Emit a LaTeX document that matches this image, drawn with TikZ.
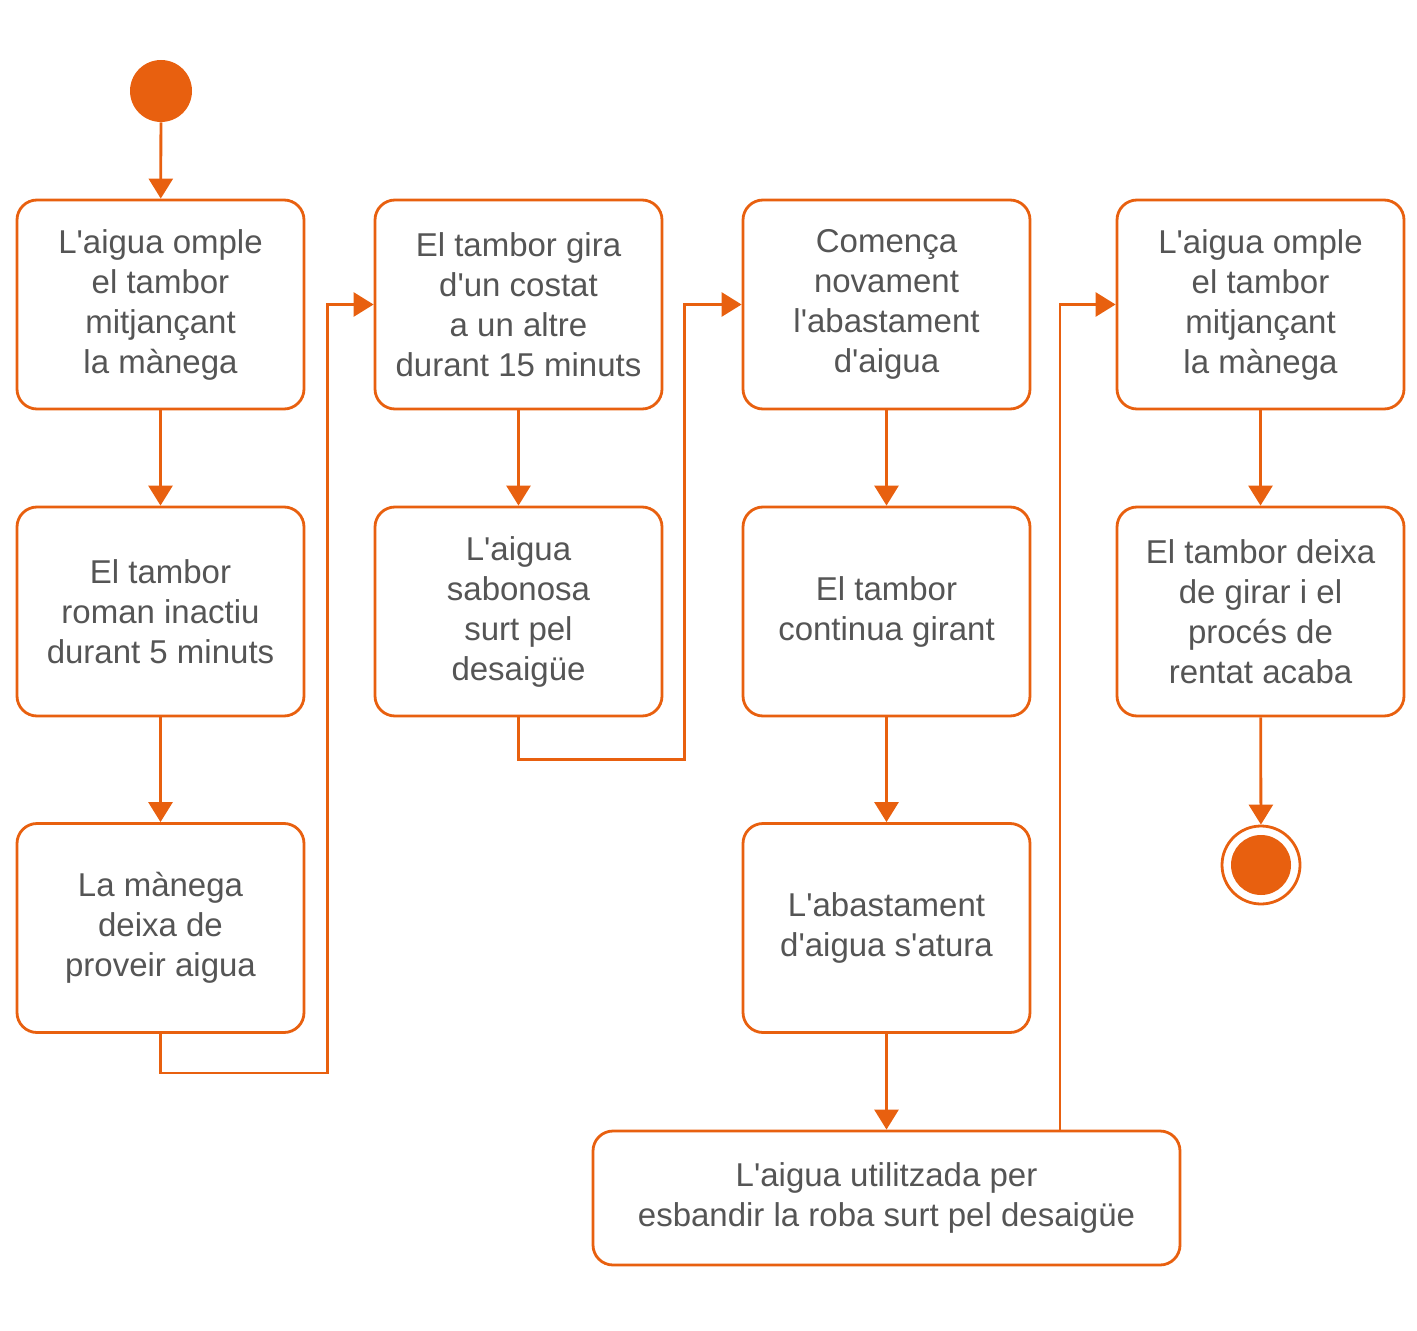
\documentclass[tikz,border=0pt]{standalone}
\usepackage{fontspec}
\setmainfont{Liberation Sans}[Ligatures=TeXOff]
\usetikzlibrary{positioning,arrows.meta}
\definecolor{naranja}{HTML}{E8600F}
\definecolor{gristxt}{HTML}{555555}

\begin{document}
\begin{tikzpicture}[x=0.5pt,y=-0.5pt,
    caja/.style={draw=naranja,line width=1.4pt,rounded corners=10pt,fill=white,
        minimum width=143.5pt,minimum height=104.5pt,align=center,
        text=gristxt,font=\fontsize{16.5}{20}\selectfont},
    flecha/.style={draw=naranja,line width=1.4pt,-{Triangle[length=10pt,width=12pt]}}]
    \useasboundingbox (0,0) rectangle (1417,1331);
    \node[circle,fill=naranja,minimum size=31pt,inner sep=0pt] (ini) at (161,91) {};
    % primera columna
    \node[caja] (a1) at (160.5,304.5) {L'aigua omple\\el tambor\\mitjançant\\la mànega};
    \node[caja] (a2) at (160.5,611.5) {El tambor\\roman inactiu\\durant 5 minuts};
    \node[caja] (a3) at (160.5,928) {La mànega\\deixa de\\proveir aigua};
    % segona columna
    \node[caja] (b1) at (518.5,304.5) {El tambor gira\\d'un costat\\a un altre\\durant 15 minuts};
    \node[caja] (b2) at (518.5,611.5) {L'aigua\\sabonosa\\surt pel\\desaigüe};
    % tercera columna
    \node[caja] (c1) at (886.5,304.5) {Comença\\novament\\l'abastament\\d'aigua};
    \node[caja] (c2) at (886.5,611.5) {El tambor\\continua girant};
    \node[caja] (c3) at (886.5,928) {L'abastament\\d'aigua s'atura};
    \node[caja,minimum width=293.5pt,minimum height=67pt] (d) at (886.5,1198)
        {L'aigua utilitzada per\\esbandir la roba surt pel desaigüe};
    % quarta columna
    \node[caja] (e1) at (1260.5,304.5) {L'aigua omple\\el tambor\\mitjançant\\la mànega};
    \node[caja] (e2) at (1260.5,611.5) {El tambor deixa\\de girar i el\\procés de\\rentat acaba};
    \node[circle,draw=naranja,line width=1.4pt,fill=white,minimum size=39pt,inner sep=0pt] (fin) at (1261,865) {};
    \fill[naranja] (fin) circle (15pt);

    \draw[flecha] (ini) -- (a1);
    \draw[flecha] (a1) -- (a2);
    \draw[flecha] (a2) -- (a3);
    \draw[flecha] (a3.south) -- ++(0,39) -| ([xshift=-23pt]b1.west) -- (b1.west);
    \draw[flecha] (b1) -- (b2);
    \draw[flecha] (b2.south) -- ++(0,42) -| ([xshift=-28.5pt]c1.west) -- (c1.west);
    \draw[flecha] (c1) -- (c2);
    \draw[flecha] (c2) -- (c3);
    \draw[flecha] (c3) -- (d);
    \draw[flecha] ([xshift=86.75pt]d.north) |- (e1.west);
    \draw[flecha] (e1) -- (e2);
    \draw[flecha] (e2) -- (fin);
\end{tikzpicture}
\end{document}
